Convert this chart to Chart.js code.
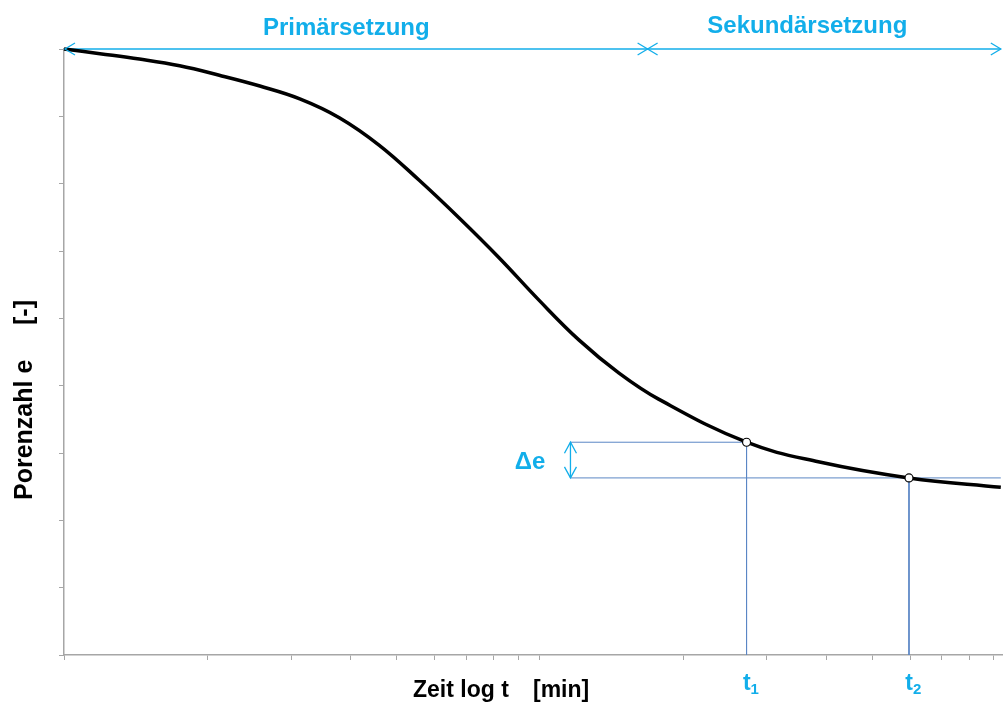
<!DOCTYPE html>
<html>
<head>
<meta charset="utf-8">
<script src="https://cdn.jsdelivr.net/npm/chart.js@4/dist/chart.umd.min.js"></script>
<style>
  html, body { margin: 0; padding: 0; background: #fff; }
</style>
</head>
<body>
<canvas id="myChart" width="1008" height="710"></canvas>
<script>
// curve (time in min, log scale / void ratio)
const zeit = [1, 1.19, 1.44, 1.75, 2.12, 2.58, 3.13, 3.79, 4.60, 5.58, 6.77, 8.21, 9.96, 12.08, 14.65, 17.77, 27.2, 38.5, 59.7, 93.1];
const porenzahl = [9.0, 8.93, 8.85, 8.75, 8.61, 8.45, 8.26, 7.98, 7.57, 7.05, 6.49, 5.90, 5.27, 4.68, 4.19, 3.80, 3.16, 2.87, 2.63, 2.49];

const xTicks = [1, 2, 3, 4, 5, 6, 7, 8, 9, 10, 20, 30, 40, 50, 60, 70, 80, 90];
const xMin = 1, xMax = 94;
const yMin = 0, yMax = 9;

// the two marked times and their void ratios
const tWerte = [27.2, 59.7];
const eWerte = [3.16, 2.63];
const tLabels = ["1", "2"];

const deltaX = 11.6;      // where the delta-e arrow sits
const grenzeX = 16.85;    // primary / secondary boundary
const endeX = 93.1;
const phasen = ["Primärsetzung", "Sekundärsetzung"];
const phasenMitte = [3.92, 36.5];

const blau = '#12aeea';
const linienBlau = '#5b87c5';
const achsGrau = '#a6a6a6';
const schrift = '"Liberation Sans", Arial, sans-serif';

function seg(x1, y1, x2, y2) {
    return [{x: x1, y: y1}, {x: x2, y: y2}];
}

const annotations = {
    id: 'annotations',
    afterDatasetsDraw(chart) {
        const ctx = chart.ctx;
        const xs = chart.scales.x, ys = chart.scales.y;
        const yTop = ys.getPixelForValue(yMax);

        ctx.save();
        ctx.strokeStyle = blau;
        ctx.lineWidth = 1.3;
        function chevron(tx, ty, dx, dy, horiz) {
            ctx.beginPath();
            if (horiz) {
                ctx.moveTo(tx + dx, ty - dy);
                ctx.lineTo(tx, ty);
                ctx.lineTo(tx + dx, ty + dy);
            } else {
                ctx.moveTo(tx - dx, ty + dy);
                ctx.lineTo(tx, ty);
                ctx.lineTo(tx + dx, ty + dy);
            }
            ctx.stroke();
        }
        const xl = xs.getPixelForValue(xMin);
        const xg = xs.getPixelForValue(grenzeX);
        const xr = xs.getPixelForValue(endeX);
        chevron(xl + 1, yTop, 10, 6, true);
        chevron(xg, yTop, -10, 6, true);
        chevron(xg, yTop, 10, 6, true);
        chevron(xr, yTop, -10, 6, true);

        // delta e arrow heads
        const xd = xs.getPixelForValue(deltaX);
        const y1 = ys.getPixelForValue(eWerte[0]);
        const y2 = ys.getPixelForValue(eWerte[1]);
        chevron(xd, y1, 6, 11, false);
        chevron(xd, y2, 6, -11, false);

        // texts
        ctx.fillStyle = blau;
        ctx.font = 'bold 24px ' + schrift;
        ctx.textAlign = 'center';
        ctx.textBaseline = 'alphabetic';
        ctx.fillText(phasen[0], xs.getPixelForValue(phasenMitte[0]), 35);
        ctx.fillText(phasen[1], xs.getPixelForValue(phasenMitte[1]), 33);

        ctx.textAlign = 'right';
        ctx.fillText('Δe', xd - 25, 469);

        tWerte.forEach(function(t, i) {
            const px = xs.getPixelForValue(t);
            ctx.font = 'bold 23px ' + schrift;
            ctx.textAlign = 'right';
            ctx.fillText('t', px + 4, 690);
            ctx.font = 'bold 15px ' + schrift;
            ctx.textAlign = 'left';
            ctx.fillText(tLabels[i], px + 4, 694);
        });

        // axis titles
        ctx.fillStyle = '#000';
        ctx.font = 'bold 23px ' + schrift;
        ctx.textAlign = 'left';
        ctx.fillText('Zeit log t', 413, 697);
        ctx.fillText('[min]', 533, 697);

        ctx.font = 'bold 25px ' + schrift;
        ctx.translate(32, 500);
        ctx.rotate(-Math.PI / 2);
        ctx.fillText('Porenzahl e', 0, 0);
        ctx.fillText('[-]', 175, 0);
        ctx.restore();
    }
};

function createChart() {
    const ctx = document.getElementById("myChart").getContext("2d");

    const kurve = zeit.map((x, i) => ({x: x, y: porenzahl[i]}));
    const punkte = tWerte.map((x, i) => ({x: x, y: eWerte[i]}));

    const config = {
        type: 'line',
        data: {
            datasets: [{
                label: 'Messpunkte',
                data: punkte,
                showLine: false,
                pointRadius: 4,
                pointBackgroundColor: '#fff',
                pointBorderColor: '#000',
                pointBorderWidth: 1.2,
                order: 0
            }, {
                label: 'Porenzahl',
                data: kurve,
                borderColor: '#000',
                borderWidth: 3.5,
                pointRadius: 0,
                tension: 0.4,
                fill: false,
                order: 1
            }, {
                label: 't1 horizontal',
                data: seg(deltaX, eWerte[0], tWerte[0], eWerte[0]),
                borderColor: linienBlau, borderWidth: 1, pointRadius: 0, order: 2
            }, {
                label: 't1 vertikal',
                data: seg(tWerte[0], eWerte[0], tWerte[0], yMin),
                borderColor: linienBlau, borderWidth: 1, pointRadius: 0, order: 2
            }, {
                label: 't2 horizontal',
                data: seg(deltaX, eWerte[1], endeX, eWerte[1]),
                borderColor: linienBlau, borderWidth: 1, pointRadius: 0, order: 2
            }, {
                label: 't2 vertikal',
                data: seg(tWerte[1], eWerte[1], tWerte[1], yMin),
                borderColor: linienBlau, borderWidth: 1, pointRadius: 0, order: 2
            }, {
                label: 'delta e',
                data: seg(deltaX, eWerte[0], deltaX, eWerte[1]),
                borderColor: blau, borderWidth: 1.3, pointRadius: 0, order: 2
            }, {
                label: 'Phasen',
                data: seg(xMin, yMax, endeX, yMax),
                borderColor: blau, borderWidth: 1.5, pointRadius: 0, order: 3
            }]
        },
        options: {
            responsive: false,
            animation: false,
            devicePixelRatio: 1,
            clip: false,
            layout: {
                padding: {top: 49, right: 3, left: 0, bottom: 0}
            },
            scales: {
                x: {
                    type: 'logarithmic',
                    min: xMin,
                    max: xMax,
                    afterBuildTicks: function(scale) {
                        scale.ticks = xTicks.map(v => ({value: v}));
                    },
                    afterFit: function(scale) {
                        scale.height = 55;
                    },
                    ticks: {display: false},
                    grid: {
                        drawOnChartArea: false,
                        drawTicks: true,
                        tickLength: 5,
                        color: achsGrau
                    },
                    border: {color: achsGrau, width: 1.5}
                },
                y: {
                    min: yMin,
                    max: yMax,
                    afterFit: function(scale) {
                        scale.width = 64;
                    },
                    ticks: {display: false, stepSize: 1},
                    grid: {
                        drawOnChartArea: false,
                        drawTicks: true,
                        tickLength: 5,
                        color: achsGrau
                    },
                    border: {color: achsGrau, width: 1.5}
                }
            },
            plugins: {
                legend: {display: false},
                tooltip: {enabled: false}
            }
        },
        plugins: [annotations]
    };

    new Chart(ctx, config);
}

createChart();
</script>
</body>
</html>
